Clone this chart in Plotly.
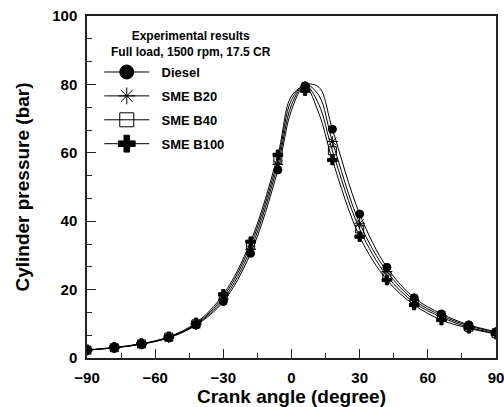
import plotly.graph_objects as go

# Marker (measured) points
angle = [-90, -78, -66, -54, -42, -30, -18, -6, 6, 18, 30, 42, 54, 66, 78, 90]
diesel = [2.3, 3.0, 4.0, 5.9, 9.6, 16.5, 30.6, 55.0, 79.6, 66.9, 42.1, 26.5, 17.6, 12.9, 9.7, 7.7]
b20 = [2.3, 3.0, 4.1, 6.0, 9.8, 17.2, 31.8, 56.6, 79.3, 63.3, 39.4, 25.3, 16.9, 12.4, 9.4, 7.5]
b40 = [2.3, 3.0, 4.1, 6.1, 10.0, 17.9, 33.0, 58.0, 78.9, 60.6, 37.7, 24.0, 16.2, 11.9, 9.0, 7.2]
b100 = [2.4, 3.1, 4.2, 6.2, 10.3, 18.6, 34.0, 59.4, 78.2, 57.9, 35.5, 22.8, 15.5, 11.1, 8.7, 7.0]

# Curve points (extra readings around the peak)
line_angle = [-90, -78, -66, -54, -42, -30, -18, -6, 0, 6, 12, 18, 30, 42, 54, 66, 78, 90]
diesel_line = [2.3, 3.0, 4.0, 5.9, 9.6, 16.5, 30.6, 55.0, 72.5, 79.8, 79.2, 66.9, 42.1, 26.5, 17.6, 12.9, 9.7, 7.7]
b20_line = [2.3, 3.0, 4.1, 6.0, 9.8, 17.2, 31.8, 56.6, 74.0, 80.0, 76.8, 63.3, 39.4, 25.3, 16.9, 12.4, 9.4, 7.5]
b40_line = [2.3, 3.0, 4.1, 6.1, 10.0, 17.9, 33.0, 58.0, 75.5, 79.8, 74.2, 60.6, 37.7, 24.0, 16.2, 11.9, 9.0, 7.2]
b100_line = [2.4, 3.1, 4.2, 6.2, 10.3, 18.6, 34.0, 59.4, 76.6, 79.3, 71.6, 57.9, 35.5, 22.8, 15.5, 11.1, 8.7, 7.0]

names = ["Diesel", "SME B20", "SME B40", "SME B100"]
series = [diesel, b20, b40, b100]
lines = [diesel_line, b20_line, b40_line, b100_line]
symbols = ["circle", "asterisk-open", "square-open", "cross"]
plot_sizes = [8, 9, 8, 8]
legend_sizes = [14, 14, 14, 14]

FONT = "Liberation Sans, Arial, sans-serif"
fig = go.Figure()
for nm, ys, ls_y, sym, ps, lsz in zip(names, series, lines, symbols, plot_sizes, legend_sizes):
    fig.add_trace(go.Scatter(
        x=line_angle, y=ls_y, mode="lines", showlegend=False, hoverinfo="skip",
        line=dict(color="black", width=1, shape="spline", smoothing=1.0),
    ))
    fig.add_trace(go.Scatter(
        x=angle, y=ys, mode="markers", name=nm, showlegend=False,
        marker=dict(symbol=sym, size=ps, color="black",
                    line=dict(color="black", width=1)),
    ))
    fig.add_trace(go.Scatter(
        x=[None], y=[None], mode="lines+markers", name="\u00a0\u00a0" + nm, legendgroup=nm,
        line=dict(color="black", width=1),
        marker=dict(symbol=sym, size=lsz, color="black",
                    line=dict(color="black", width=1)),
    ))

axis_common = dict(
    showline=True, linecolor="#222", linewidth=1.5, mirror=True,
    ticks="inside", ticklen=9, tickwidth=1.2, tickcolor="#222",
    showgrid=False, zeroline=False, automargin=False,
    tickfont=dict(family=FONT, size=15, color="black", weight="bold"),
)
fig.update_xaxes(range=[-90, 90], tick0=-90, dtick=30, ticklabeloverflow="allow",
                 ticklabelstandoff=5,
                 minor=dict(ticks="inside", ticklen=5, dtick=15, tickcolor="#222", tickwidth=1.2),
                 title=dict(text="Crank angle (degree)", standoff=3,
                            font=dict(family=FONT, size=19, color="black", weight="bold")),
                 **axis_common)
fig.update_yaxes(range=[0, 100], tick0=0, dtick=20, ticklabelstandoff=5,
                 minor=dict(ticks="inside", ticklen=5, dtick=20 / 3, tickcolor="#222", tickwidth=1.2),
                 title=dict(text="Cylinder pressure (bar)", standoff=18,
                            font=dict(family=FONT, size=19, color="black", weight="bold")),
                 **axis_common)

fig.add_annotation(x=0.255, y=0.918, xref="paper", yref="paper", showarrow=False,
                   xanchor="center", yanchor="middle",
                   text="Experimental results<br>Full load, 1500 rpm, 17.5 CR",
                   font=dict(family=FONT, size=12, color="black", weight="bold"),
                   align="center")

fig.update_layout(
    width=504, height=407,
    margin=dict(l=87, r=8, t=16, b=49),
    plot_bgcolor="white", paper_bgcolor="white",
    legend=dict(x=0.03, y=0.88, xanchor="left", yanchor="top",
                bgcolor="rgba(0,0,0,0)", itemwidth=45, tracegroupgap=4,
                font=dict(family=FONT, size=13, color="black", weight="bold")),
)
fig.write_html("out.html", config={"displayModeBar": False})

# remove the default page margin so the figure sits at the window's top-left corner
with open("out.html", "r", encoding="utf-8") as f:
    html = f.read()
html = html.replace("<head>", "<head><style>html,body{margin:0;padding:0;overflow:hidden;}</style>", 1)
with open("out.html", "w", encoding="utf-8") as f:
    f.write(html)
